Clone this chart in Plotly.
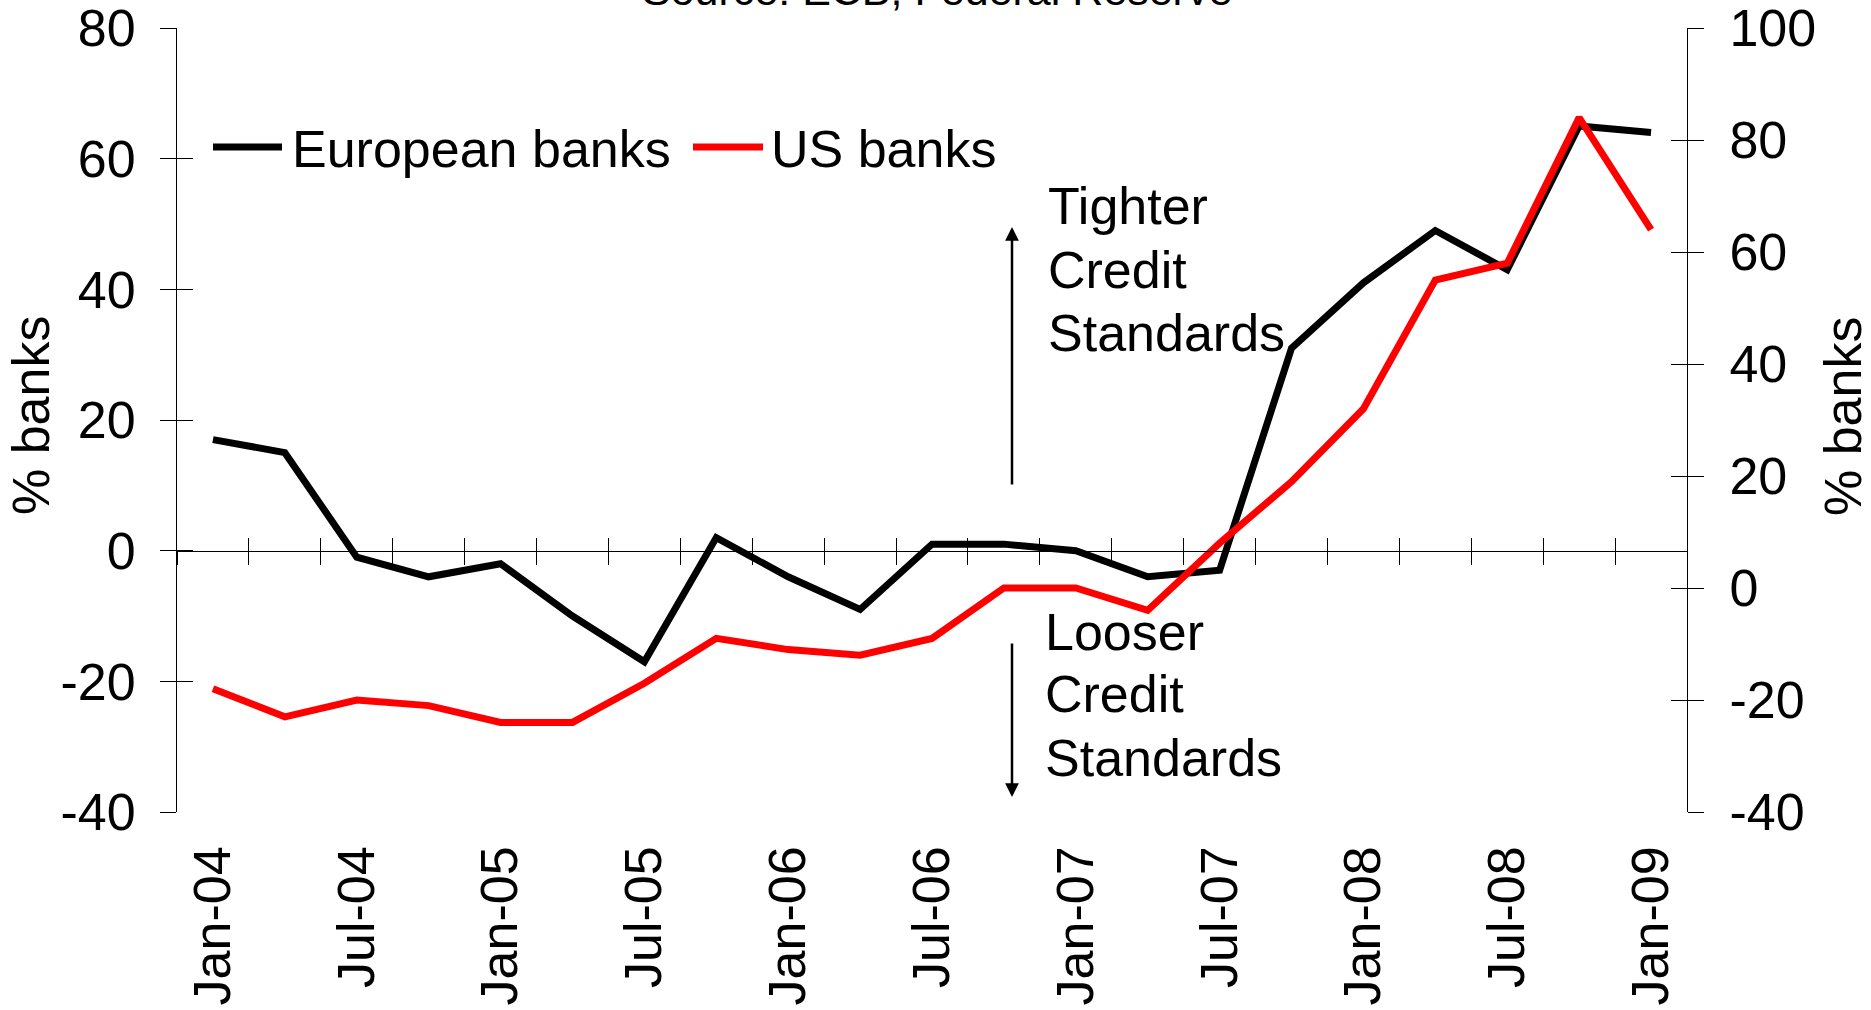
import plotly.graph_objects as go

# Quarterly survey dates (bank lending survey rounds)
quarters = [
    "Jan-04", "Apr-04", "Jul-04", "Oct-04",
    "Jan-05", "Apr-05", "Jul-05", "Oct-05",
    "Jan-06", "Apr-06", "Jul-06", "Oct-06",
    "Jan-07", "Apr-07", "Jul-07", "Oct-07",
    "Jan-08", "Apr-08", "Jul-08", "Oct-08",
    "Jan-09",
]
# Net % of banks tightening credit standards
european_banks = [17, 15, -1, -4, -2, -10, -17, 2, -4, -9, 1, 1, 0, -4, -3,
                  31, 41, 49, 43, 65, 64]
us_banks = [-18, -23, -20, -21, -24, -24, -17, -9, -11, -12, -9, 0, 0, -4, 8,
            19, 32, 55, 58, 84, 64]

left_ticks = [-40, -20, 0, 20, 40, 60, 80]
left_labels = ["-40", "-20", "0", "20", "40", "60", "80"]
right_ticks = [-40, -20, 0, 20, 40, 60, 80, 100]
right_labels = ["-40", "-20", "0", "20", "40", "60", "80", "100"]

FONT = "Arial, Liberation Sans, sans-serif"
W, H = 1871, 1010
ML, MR, MT, MB = 177, 184, 28, 198
PW, PH = W - ML - MR, H - MT - MB


def px_x(p):
    return (p - ML) / PW


def px_y(p):
    return (H - MB - p) / PH


idx = list(range(len(quarters)))
boundaries = [i - 0.5 for i in range(len(quarters) + 1)]
LEFT_RANGE = [-40, 80]
RIGHT_RANGE = [-40, 100]

fig = go.Figure()

fig.add_trace(go.Scatter(
    x=idx, y=european_banks, name="European banks", mode="lines",
    line=dict(color="#000000", width=7), xaxis="x", yaxis="y",
    showlegend=False,
))
fig.add_trace(go.Scatter(
    x=idx, y=us_banks, name="US banks", mode="lines",
    line=dict(color="#FF0000", width=7), xaxis="x", yaxis="y2",
    showlegend=False,
))
# empty traces so the overlay tick axes get a subplot
for xa, ya in [("x2", "y"), ("x3", "y"), ("x", "y3"), ("x", "y4")]:
    fig.add_trace(go.Scatter(x=[None], y=[None], xaxis=xa, yaxis=ya,
                             showlegend=False, hoverinfo="skip"))

tick_font = dict(family=FONT, size=52, color="#000000")
zero_pos = (0 - LEFT_RANGE[0]) / (LEFT_RANGE[1] - LEFT_RANGE[0])

common_x = dict(range=[-0.5, len(quarters) - 0.5], showgrid=False,
                zeroline=False, fixedrange=True, automargin=False)
common_y = dict(showgrid=False, zeroline=False, fixedrange=True,
                automargin=False)

fig.update_layout(
    template="none",
    width=W, height=H, autosize=False,
    margin=dict(l=ML, r=MR, t=MT, b=MB, pad=0, autoexpand=False),
    paper_bgcolor="white", plot_bgcolor="white",
    showlegend=False,
    # date labels along the bottom
    xaxis=dict(**common_x, anchor="y", side="bottom",
               tickmode="array", tickvals=idx[::2], ticktext=quarters[::2],
               tickangle=-90, ticks="", showline=False,
               ticklabelstandoff=23, ticklabeloverflow="allow",
               tickfont=tick_font),
    # horizontal axis line at zero with crossing ticks
    xaxis2=dict(**common_x, overlaying="x", anchor="free", position=zero_pos,
                tickmode="array", tickvals=boundaries, ticks="outside",
                ticklen=13, tickwidth=1, tickcolor="#000000",
                showticklabels=False, showline=True, linecolor="#000000",
                linewidth=1),
    xaxis3=dict(**common_x, overlaying="x", anchor="free", position=zero_pos,
                tickmode="array", tickvals=boundaries, ticks="inside",
                ticklen=13, tickwidth=1, tickcolor="#000000",
                showticklabels=False, showline=False),
    yaxis=dict(**common_y, range=LEFT_RANGE, anchor="x", side="left",
               tickmode="array", tickvals=left_ticks, ticktext=left_labels,
               ticks="outside", ticklen=16, tickwidth=1, tickcolor="#000000",
               showline=True, linecolor="#000000", linewidth=1,
               ticklabelstandoff=14, ticklabeloverflow="allow",
               tickfont=tick_font),
    yaxis3=dict(**common_y, range=LEFT_RANGE, overlaying="y", anchor="x",
                side="left", tickmode="array", tickvals=left_ticks,
                ticks="inside", ticklen=16, tickwidth=1, tickcolor="#000000",
                showticklabels=False, showline=False),
    yaxis2=dict(**common_y, range=RIGHT_RANGE, overlaying="y", anchor="x",
                side="right", tickmode="array", tickvals=right_ticks,
                ticktext=right_labels, ticks="outside", ticklen=16,
                tickwidth=1, tickcolor="#000000",
                showline=True, linecolor="#000000", linewidth=1,
                ticklabelstandoff=15, ticklabeloverflow="allow",
                tickfont=tick_font),
    yaxis4=dict(**common_y, range=RIGHT_RANGE, overlaying="y", anchor="x",
                side="right", tickmode="array", tickvals=right_ticks,
                ticks="inside", ticklen=16, tickwidth=1, tickcolor="#000000",
                showticklabels=False, showline=False),
)

annotations = []
text_font = dict(family=FONT, size=52, color="#000000")

# source line at the very top
annotations.append(dict(
    text="Source: ECB, Federal Reserve", xref="paper", yref="paper",
    x=px_x(937), y=px_y(16), xanchor="center", yanchor="bottom",
    showarrow=False, font=dict(family=FONT, size=43, color="#000000"),
))

# axis titles
annotations.append(dict(
    text="% banks", xref="paper", yref="paper", x=px_x(31), y=px_y(416),
    xanchor="center", yanchor="middle", textangle=-90, showarrow=False,
    font=text_font,
))
annotations.append(dict(
    text="% banks", xref="paper", yref="paper", x=px_x(1843), y=px_y(417),
    xanchor="center", yanchor="middle", textangle=-90, showarrow=False,
    font=text_font,
))

# tightening / loosening notes, one line each
notes = [
    (["Tighter", "Credit", "Standards"], 1046, [206, 270, 333]),
    (["Looser", "Credit", "Standards"], 1043, [632, 694, 758]),
]
for lines, xl, ys in notes:
    for line, yc in zip(lines, ys):
        annotations.append(dict(
            text=line, xref="paper", yref="paper", x=px_x(xl), y=px_y(yc),
            xanchor="left", yanchor="middle", showarrow=False,
            font=text_font,
        ))

# direction arrows
annotations.append(dict(
    text="", xref="paper", yref="paper", x=px_x(1012), y=px_y(227),
    ax=0, ay=259, showarrow=True, arrowhead=2, arrowsize=1.1,
    arrowwidth=2.5, arrowcolor="#000000", standoff=0,
))
annotations.append(dict(
    text="", xref="paper", yref="paper", x=px_x(1012), y=px_y(797),
    ax=0, ay=-155, showarrow=True, arrowhead=2, arrowsize=1.1,
    arrowwidth=2.5, arrowcolor="#000000", standoff=0,
))

# legend entries
legend_items = [("European banks", "#000000", 213, 282, 290),
                ("US banks", "#FF0000", 693, 763, 769)]
shapes = []
for label, color, x0, x1, xt in legend_items:
    shapes.append(dict(type="line", xref="paper", yref="paper",
                       x0=px_x(x0), x1=px_x(x1), y0=px_y(147), y1=px_y(147),
                       line=dict(color=color, width=7)))
    annotations.append(dict(
        text=label, xref="paper", yref="paper", x=px_x(xt), y=px_y(149),
        xanchor="left", yanchor="middle", showarrow=False, font=text_font,
    ))

fig.update_layout(annotations=annotations, shapes=shapes)

fig.write_html("out.html")
